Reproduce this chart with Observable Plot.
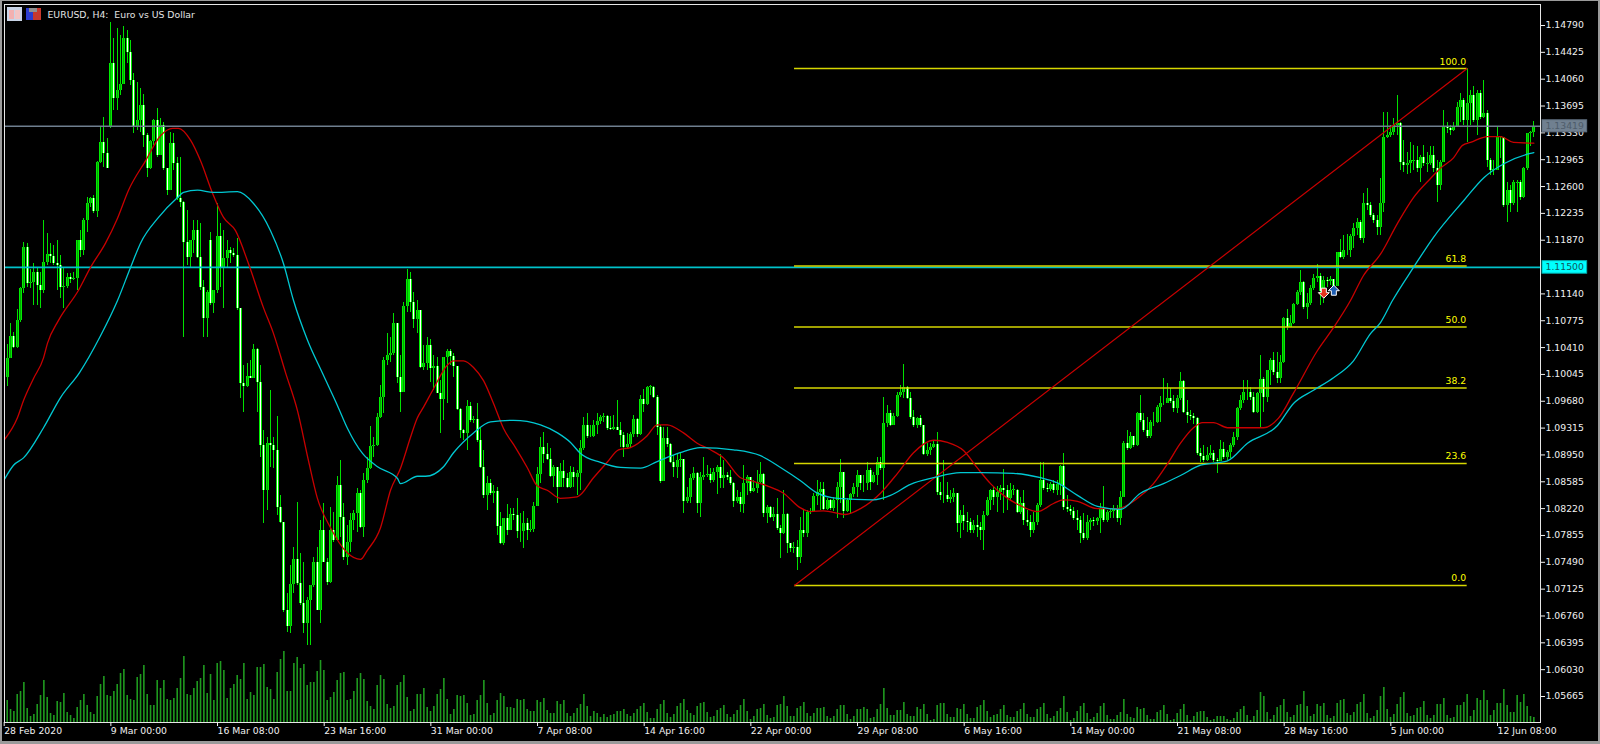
<!DOCTYPE html>
<html>
<head>
<meta charset="utf-8">
<script src="https://cdn.jsdelivr.net/npm/d3@7"></script>
<script src="https://cdn.jsdelivr.net/npm/@observablehq/plot@0.6"></script>
<style>
html,body{margin:0;padding:0;background:#000;overflow:hidden}
#chart svg{display:block}
#edge{position:absolute;left:0;top:0;width:1600px;height:744px;box-sizing:border-box;pointer-events:none;border-style:solid;border-color:#9a9a9a;border-width:1px 2px 3px 2px}
</style>
</head>
<body>
<div id="chart"></div>
<div id="edge"></div>
<script>
// Prices in pips (1.1026 = 11026), one per H4 bar
const closePips=[
11026,11056,11041,11078,11121,11177,11128,11129,11143,11125,
11119,11157,11168,11165,11155,11153,11123,11124,11136,11134,
11135,11187,11173,11214,11237,11244,11226,11293,11320,11305,
11285,11427,11380,11391,11399,11461,11442,11404,11340,11350,
11370,11329,11285,11321,11350,11302,11343,11285,11255,11319,
11291,11244,11238,11184,11163,11187,11200,11163,11123,11081,
11116,11101,11119,11192,11149,11162,11173,11169,11166,11094,
10992,10988,11002,10999,11038,10993,10908,10847,10911,10908,
10901,10823,10803,10683,10662,10719,10753,10720,10693,10666,
10697,10717,10749,10683,10792,10749,10721,10792,10779,10853,
10810,10755,10776,10806,10815,10843,10796,10860,10877,10906,
10908,10946,10973,11023,11030,11033,11074,11000,10980,11097,
11134,11102,11079,11091,11014,11019,11044,11013,11015,10979,
10970,11027,11036,11029,11015,10957,10928,10924,10961,10942,
10943,10915,10878,10840,10856,10843,10845,10798,10775,10809,
10792,10814,10813,10791,10791,10802,10792,10794,10825,10868,
10905,10896,10889,10866,10878,10851,10872,10863,10851,10871,
10864,10870,10904,10935,10920,10920,10935,10940,10946,10947,
10931,10930,10932,10928,10921,10905,10909,10923,10943,10923,
10970,10964,10987,10987,10973,10932,10859,10917,10909,10885,
10878,10887,10889,10832,10837,10863,10870,10829,10864,10867,
10868,10860,10871,10878,10863,10867,10864,10856,10832,10837,
10828,10856,10864,10845,10849,10857,10868,10815,10823,10810,
10814,10795,10788,10814,10775,10768,10769,10755,
10792,10788,10817,10818,10838,10844,10848,10821,10833,10822,
10833,10851,10871,10818,10833,10841,10851,10867,10856,10856,
10874,10857,10867,10885,10877,10938,10951,10935,10947,10976,
10980,10987,10972,10946,10935,10945,10935,10896,10901,10905,
10909,10844,10840,10840,10834,10837,10843,10802,10813,10804,
10803,10792,10799,10796,10792,10813,10833,10847,10837,10844,
10849,10847,10836,10847,10847,10817,10829,10806,10803,10792,
10803,10826,10860,10849,10848,10855,10847,10855,10879,10824,
10821,10818,10809,10806,10788,10781,10803,10806,10804,10809,
10822,10806,10817,10818,10822,10809,10837,10911,10904,10920,
10908,10951,10942,10928,10920,10939,10939,10959,10965,10965,
10972,10968,10958,10972,10995,10953,10949,10947,10945,10897,
10893,10887,10894,10897,10887,10886,10902,10891,10898,10908,
10919,10958,10969,10980,10980,10973,10953,10979,10998,10973,
11010,11023,11007,10999,11021,11081,11068,11074,11100,11116,
11129,11095,11101,11121,11135,11138,11117,11132,11131,11134,
11124,11170,11163,11173,11173,11192,11203,11211,11189,11237,
11234,11221,11214,11204,11237,11327,11329,11333,11343,11346,
11293,11289,11291,11295,11295,11285,11299,11291,11291,11302,
11285,11261,11293,11340,11339,11336,11340,11367,11377,11350,
11373,11384,11350,11387,11354,11359,11295,11282,11282,11327,
11327,11234,11255,11237,11265,11265,11245,11285,11332,11333,11342];
const highPips=[
11045,11074,11061,11093,11123,11184,11183,11147,11155,11150,
11143,11214,11196,11183,11180,11187,11166,11150,11142,11142,
11143,11187,11200,11217,11245,11245,11248,11294,11340,11354,
11325,11483,11461,11475,11465,11478,11472,11459,11414,11401,
11393,11385,11332,11323,11351,11366,11353,11347,11285,11333,
11332,11299,11299,11240,11227,11187,11214,11214,11210,11132,
11119,11197,11119,11237,11210,11200,11187,11177,11176,11189,
11094,11017,11019,11023,11045,11040,11017,10928,10919,10983,
10919,10947,10840,10803,10707,10745,10769,10830,10761,10749,
10701,10717,10755,10769,10806,10829,10754,10823,10817,10866,
10887,10829,10799,10815,10819,10849,10847,10870,10891,10934,
10919,10951,10989,11027,11060,11055,11087,11074,11030,11102,
11147,11143,11116,11105,11091,11044,11055,11052,11030,11027,
10996,11027,11038,11038,11033,11015,10958,10930,10969,10966,
10947,10965,10931,10901,10866,10862,10853,10851,10817,10809,
10828,10822,10822,10836,10815,10818,10809,10806,10830,10878,
10919,10925,10911,10904,10881,10874,10883,10887,10870,10879,
10878,10874,10915,10946,10951,10935,10942,10951,10949,10951,
10949,10947,10949,10969,10939,10925,10924,10925,10949,10945,
10976,10984,10988,10989,10988,10976,10935,10932,10932,10911,
10894,10896,10897,10889,10851,10868,10878,10871,10871,10891,
10881,10877,10877,10881,10896,10887,10871,10874,10857,10847,
10844,10881,10867,10863,10860,10874,10885,10870,10826,10825,
10823,10836,10799,10847,10815,10775,10776,10779,
10810,10819,10819,10822,10843,10860,10857,10857,10836,10834,
10837,10857,10889,10871,10836,10843,10856,10874,10863,10867,
10885,10877,10871,10891,10891,10973,10962,10955,10951,10980,
10989,11018,10988,10980,10955,10946,10949,10935,10911,10911,
10915,10925,10857,10887,10857,10847,10849,10843,10819,10826,
10817,10809,10806,10813,10803,10818,10837,10848,10851,10852,
10853,10875,10853,10856,10853,10848,10837,10847,10819,10813,
10817,10829,10885,10885,10856,10857,10860,10860,10881,10897,
10840,10826,10824,10819,10811,10815,10813,10809,10810,10810,
10829,10852,10819,10822,10826,10826,10845,10913,10928,10925,
10920,10953,10976,10951,10946,10942,10953,10962,10974,10999,
10992,10985,10976,10976,11007,10996,10969,10955,10951,10946,
10904,10908,10905,10908,10901,10890,10915,10912,10901,10911,
10925,10959,10976,10996,10996,10987,10980,10980,11030,11000,
11010,11026,11034,11034,11030,11082,11093,11085,11101,11119,
11146,11131,11115,11125,11140,11154,11142,11138,11136,11138,
11132,11170,11188,11193,11195,11195,11210,11217,11214,11251,
11257,11238,11223,11221,11271,11361,11361,11343,11353,11384,
11347,11323,11306,11320,11316,11314,11302,11316,11306,11314,
11314,11295,11295,11363,11347,11343,11347,11374,11387,11380,
11421,11391,11396,11391,11391,11404,11363,11298,11295,11340,
11328,11319,11265,11261,11268,11268,11268,11286,11332,11335,11348];
const lowPips=[
10988,11034,11040,11040,11075,11115,11123,11121,11098,11098,
11094,11115,11153,11155,11153,11119,11108,11094,11121,11128,
11132,11119,11163,11166,11197,11231,11223,11218,11291,11286,
11285,11339,11363,11363,11384,11399,11427,11397,11332,11336,
11333,11313,11272,11283,11316,11299,11302,11282,11248,11255,
11282,11241,11231,11055,11153,11150,11169,11162,11119,11055,
11055,11098,11087,11115,11123,11094,11149,11155,11163,11091,
10972,10953,10987,10999,10999,10953,10891,10802,10819,10878,
10877,10813,10802,10681,10653,10652,10707,10717,10690,10652,
10636,10636,10715,10683,10666,10749,10717,10720,10776,10783,
10783,10751,10745,10762,10792,10789,10795,10783,10856,10875,
10891,10906,10945,10951,11017,11021,11030,10992,10953,10980,
11089,11089,11067,11060,11013,11010,11010,10993,10983,10979,
10924,10942,10965,11017,11000,10955,10917,10915,10901,10939,
10938,10912,10877,10836,10819,10840,10829,10785,10773,10772,
10785,10792,10806,10781,10776,10768,10779,10789,10789,10825,
10856,10883,10887,10864,10851,10829,10851,10851,10849,10849,
10851,10840,10847,10901,10917,10919,10919,10923,10936,10939,
10928,10928,10928,10928,10905,10891,10904,10904,10919,10919,
10921,10953,10962,10976,10972,10921,10856,10859,10905,10883,
10864,10863,10878,10815,10829,10829,10860,10815,10810,10860,
10864,10856,10857,10841,10849,10849,10860,10853,10823,10829,
10817,10815,10840,10843,10844,10843,10856,10810,10802,10809,
10804,10792,10754,10787,10761,10762,10761,10738,
10747,10783,10783,10814,10817,10826,10819,10819,10819,10819,
10818,10809,10829,10809,10817,10815,10837,10837,10847,10844,
10847,10847,10856,10853,10874,10833,10932,10934,10945,10946,
10973,10972,10970,10943,10932,10931,10932,10894,10893,10894,
10904,10840,10833,10829,10830,10829,10830,10789,10781,10792,
10789,10788,10788,10783,10779,10765,10811,10819,10826,10817,
10833,10815,10819,10833,10840,10815,10814,10799,10798,10783,
10788,10799,10824,10847,10844,10845,10843,10840,10840,10819,
10817,10813,10806,10792,10775,10779,10779,10792,10798,10799,
10788,10803,10803,10809,10809,10803,10799,10837,10901,10902,
10905,10906,10939,10925,10917,10917,10934,10938,10939,10962,
10969,10965,10953,10951,10969,10951,10938,10942,10936,10894,
10885,10885,10886,10890,10885,10870,10887,10889,10887,10890,
10905,10915,10955,10965,10969,10969,10951,10951,10932,10953,
10966,10989,11003,10992,10992,11019,11064,11068,11072,11098,
11112,11093,11079,11098,11119,11129,11098,11101,11123,11125,
11121,11124,11162,11161,11166,11163,11176,11193,11187,11183,
11227,11218,11210,11193,11193,11225,11325,11327,11329,11329,
11282,11279,11276,11278,11282,11279,11265,11287,11279,11289,
11279,11238,11255,11295,11332,11329,11335,11340,11347,11343,
11320,11343,11347,11329,11351,11353,11286,11275,11275,11289,
11298,11231,11211,11225,11234,11225,11241,11244,11282,11314,11327];
// Opens that do not sit on the previous close (week gaps and the first bar)
const gapOpens=[[0,11000],[31,11340],[61,11187]];
// Tick volume in hundreds of ticks
const volume=[
22,13,11,28,31,40,14,6,8,18,27,42,25,9,7,21,20,29,10,7,
4,15,22,28,17,10,8,26,38,46,27,26,31,38,49,53,27,23,22,45,
48,57,28,17,17,42,34,42,23,22,24,34,44,66,28,27,34,41,44,57,
29,48,22,59,61,52,24,34,38,47,43,59,23,30,27,55,55,58,35,33,
23,50,63,71,31,31,59,65,54,58,37,40,40,51,62,52,22,25,30,42,
49,50,22,23,31,44,49,43,21,16,13,37,47,43,18,14,16,37,40,47,
25,11,13,28,28,34,15,11,16,28,33,44,23,8,13,27,26,27,19,7,
8,22,27,42,19,7,9,22,29,26,15,15,14,23,22,23,13,11,11,22,
20,24,12,9,9,21,18,22,9,6,9,14,18,28,16,6,11,9,5,8,
5,7,8,11,11,13,8,6,9,13,16,19,10,4,4,13,18,22,9,5,
8,16,19,23,12,9,7,16,19,20,10,5,6,12,14,17,8,5,8,12,
17,23,11,3,6,13,14,18,7,4,5,17,18,26,16,6,6,14,16,20,
9,6,9,14,14,15,6,4,6,13,17,17,8,3,6,13,13,15,13,4,
5,13,18,34,14,7,7,12,12,20,8,6,6,15,13,18,8,2,3,17,
19,19,8,5,5,14,13,18,8,4,4,15,17,22,11,5,7,8,13,17,
7,5,5,11,13,19,8,5,5,13,15,19,8,4,6,11,14,26,10,2,
4,11,16,19,9,3,5,9,16,19,7,3,3,7,10,23,8,5,4,15,
13,14,7,3,3,10,12,17,8,2,3,9,13,18,7,2,6,10,11,11,
5,2,3,6,6,6,3,2,4,10,13,16,7,2,6,12,30,26,10,3,
7,15,17,23,10,5,7,17,18,31,16,6,8,18,16,19,7,4,6,19,
22,23,9,7,10,18,20,28,9,4,6,12,26,35,13,5,8,18,25,30,
9,6,7,14,15,21,7,4,7,18,18,24,7,4,5,17,17,20,28,6,
12,24,22,32,22,7,12,19,19,33,17,10,10,27,20,28,16,6,5];
// Moving averages read at points along their curves: bar number, price in pips
const redBars=[-0.8,3.1,4.9,7.9,10.9,12.1,15.4,21.4,25,29.5,33.1,36.4,41.5,46,49.6,51.4,55,58,61.6,64.9,68.5,72.4,76.9,79.9,83.5,87.1,90.4,93,97,102,106,108,112,115,118,121,123,124.9,127.9,132,133.9,136.9,139.9,142.9,145.9,148.9,152.5,156,159,162,165.9,171,175.9,180,183.4,187,192,195,198,202.9,207,211,214.9,220,223.9,228,232.9,238,241,244.9,251.5,256,262,267.1,271.9,277.9,282.1,286.9,291.1,295,298.9,304,309.1,313.9,316.9,321.1,327.1,333.1,339.1,343.9,348.1,352,355.9,358.6,361.9,366.1,372.1,376.9,381.4,385.9,393.1,397.9,403,406.9,412,417.1,421.9,427,430,433.9,436.6,439,444.1,448,451.9,458];
const redPips=[10916,10946,10969,10999,11027,11047,11078,11119,11150,11183,11217,11255,11295,11329,11339,11339,11323,11295,11251,11218,11200,11155,11095,11060,11007,10955,10887,10837,10796,10762,10753,10765,10796,10847,10877,10919,10945,10960,10985,11017,11023,11023,11014,10996,10965,10931,10905,10878,10853,10847,10836,10838,10864,10885,10902,10905,10921,10936,10936,10925,10911,10902,10891,10864,10859,10853,10843,10823,10818,10819,10814,10822,10843,10870,10898,10915,10912,10901,10877,10856,10840,10826,10818,10829,10834,10832,10822,10822,10836,10856,10883,10911,10932,10939,10939,10932,10932,10932,10945,10979,11037,11068,11105,11139,11168,11210,11245,11271,11285,11299,11316,11320,11328,11328,11320,11319];
const cyanBars=[-0.8,1.9,4.9,10.9,16,21.7,28,33.1,37,40,45.4,51.1,52.9,57.1,61.9,69.1,73.9,79,82.9,85.9,90.1,94.6,99.1,102.1,106.6,111.1,117.1,118,123.1,125.5,130.9,133.9,139.9,145,151.9,160,165.1,169,172,178,184,190,195,201.9,207.9,217.9,226,232,238,243.1,249.1,259.9,265,271,277.9,286,292,301.9,310,315.1,321.1,327.1,334,340,346.9,352,358,366.1,372.1,381.1,385.9,391.9,397.9,403.9,409,412,415.6,421.9,427.9,437,443,449,457,458];
const cyanPips=[10862,10881,10891,10932,10973,11007,11057,11105,11150,11183,11218,11245,11252,11255,11252,11253,11237,11200,11155,11105,11051,11006,10962,10931,10897,10879,10863,10856,10866,10866,10879,10898,10925,10940,10942,10936,10925,10912,10897,10885,10878,10877,10886,10898,10905,10902,10894,10878,10860,10843,10836,10834,10840,10855,10864,10871,10871,10870,10864,10857,10840,10825,10821,10843,10856,10867,10881,10887,10911,10935,10965,10983,11000,11023,11060,11075,11105,11150,11191,11241,11272,11291,11305,11306];
// Fibonacci retracement
const fibLabels=["0.0","23.6","38.2","50.0","61.8","100.0"];
const fibPrices=[1.07175,1.08834,1.09860,1.10690,1.11519,1.14205];
const fibStartBar=236.2, fibEndBar=438;
// Horizontal price lines
const greyLevel=1.13419, cyanLevel=1.11500;
// Trade arrows
const arrowBars=[395,398], arrowPrices=[1.1115,1.1119];
// Axes
const yTicks=[1.14790,1.14425,1.14060,1.13695,1.13330,1.12965,1.12600,1.12235,1.11870,1.11140,1.10775,1.10410,1.10045,1.09680,1.09315,1.08950,1.08585,1.08220,1.07855,1.07490,1.07125,1.06760,1.06395,1.06030,1.05665];
const xTickBars=[-0.9,31.1,63.1,95.1,127.1,159.1,191.1,223.1,255.1,287.1,319.1,351.1,383.1,415.1,447.1];
const xLabels=["28 Feb 2020","9 Mar 00:00","16 Mar 08:00","23 Mar 16:00","31 Mar 00:00","7 Apr 08:00","14 Apr 16:00","22 Apr 00:00","29 Apr 08:00","6 May 16:00","14 May 00:00","21 May 08:00","28 May 16:00","5 Jun 00:00","12 Jun 08:00"];
const titleText="EURUSD, H4:\u00a0 Euro vs US Dollar";

const gapMap=new Map(gapOpens);
const bars=closePips.map((c,i)=>{
  const o=gapMap.has(i)?gapMap.get(i):closePips[i-1];
  const up=c>=o;
  const top=Math.max(o,c), bot=Math.min(o,c);
  return {i,up,o:o/1e4,c:c/1e4,h:highPips[i]/1e4,l:lowPips[i]/1e4,
    top:(top===bot?top+0.5:top)/1e4,bot:(top===bot?bot-0.5:bot)/1e4};
});
const volBase=1.053115, volUnit=0.000136;
const vols=volume.map((v,i)=>({i,v}));
const red=redBars.map((b,j)=>({b,p:redPips[j]/1e4}));
const cyan=cyanBars.map((b,j)=>({b,p:cyanPips[j]/1e4}));
const fibs=fibPrices.map((p,j)=>({p,label:fibLabels[j]}));
const downArrow={draw(c){c.moveTo(-2.5,-5);c.lineTo(2.5,-5);c.lineTo(2.5,-0.5);c.lineTo(5.5,-0.5);c.lineTo(0,5);c.lineTo(-5.5,-0.5);c.lineTo(-2.5,-0.5);c.closePath();}};
const upArrow={draw(c){c.moveTo(-2.5,5);c.lineTo(2.5,5);c.lineTo(2.5,0.5);c.lineTo(5.5,0.5);c.lineTo(0,-5);c.lineTo(-5.5,0.5);c.lineTo(-2.5,0.5);c.closePath();}};
const font="DejaVu Sans", fs=9.3;

const chart=Plot.plot({
  width:1600,height:744,marginTop:4,marginLeft:4,marginRight:60,marginBottom:22,
  style:{background:"#000",color:"#fff",fontFamily:font,fontSize:fs+"px"},
  x:{domain:[-0.81,460],axis:null},
  y:{domain:[1.053115,1.150756],axis:null},
  marks:[
    Plot.ruleX(vols,{x:"i",y1:volBase,y2:d=>volBase+d.v*volUnit,stroke:"#1f9a1f",strokeWidth:1.6}),
    Plot.ruleX(bars,{x:"i",y1:"l",y2:"h",stroke:"#00e000",strokeWidth:1,shapeRendering:"crispEdges"}),
    Plot.ruleX(bars,{x:"i",y1:"bot",y2:"top",stroke:"#00ee00",strokeWidth:3,shapeRendering:"crispEdges"}),
    Plot.ruleX(bars,{x:"i",y1:"bot",y2:"top",stroke:d=>d.up?"#00a800":"#ffffff",strokeWidth:1,shapeRendering:"crispEdges"}),
    Plot.ruleY([greyLevel],{stroke:"#6f7f8f",strokeWidth:1.4}),
    Plot.ruleY([cyanLevel],{stroke:"#00c2ca",strokeWidth:1.7}),
    Plot.ruleY(fibs,{y:"p",x1:fibStartBar,x2:fibEndBar,stroke:"#d6d600",strokeWidth:1.5}),
    Plot.line([{b:fibStartBar,p:fibPrices[0]},{b:fibEndBar,p:fibPrices[5]}],{x:"b",y:"p",stroke:"#c80000",strokeWidth:1.2}),
    Plot.text(fibs,{x:fibEndBar,y:"p",text:"label",fill:"#ffff00",textAnchor:"end",dx:-1,dy:-7,fontSize:fs,fontFamily:font}),
    Plot.line(red,{x:"b",y:"p",stroke:"#c80000",strokeWidth:1.3,curve:"monotone-x"}),
    Plot.line(cyan,{x:"b",y:"p",stroke:"#00c8d2",strokeWidth:1.3,curve:"monotone-x"}),
    Plot.dot([{b:arrowBars[0],p:arrowPrices[0]}],{x:"b",y:"p",symbol:downArrow,fill:"#e8351e",stroke:"#fff",strokeWidth:1}),
    Plot.dot([{b:arrowBars[1],p:arrowPrices[1]}],{x:"b",y:"p",symbol:upArrow,fill:"#1f5fb4",stroke:"#fff",strokeWidth:1}),
    Plot.frame({stroke:"#e6e6e6"}),
    Plot.axisY({anchor:"right",ticks:yTicks,tickFormat:d3.format(".5f"),tickSize:4,tickPadding:1,label:null,fontSize:fs,fontFamily:font,color:"#f0f0f0"}),
    Plot.ruleX(xTickBars,{x:d=>d,y1:volBase,y2:volBase-4*volUnit,stroke:"#f0f0f0"}),
    Plot.text(xTickBars,{x:d=>d,text:(d,j)=>xLabels[j],frameAnchor:"bottom",textAnchor:"start",dy:11,fill:"#f0f0f0",fontSize:fs,fontFamily:font}),
    Plot.rect([greyLevel],{x1:460.6,x2:474,y1:d=>d-0.00082,y2:d=>d+0.00082,fill:"#708090",stroke:"#5f6f7f"}),
    Plot.text([greyLevel],{x:461.5,y:d=>d,text:d=>d3.format(".5f")(d),textAnchor:"start",fill:"#4e5c6a",fontSize:fs,fontFamily:font}),
    Plot.rect([cyanLevel],{x1:460.6,x2:474,y1:d=>d-0.00085,y2:d=>d+0.00085,fill:"#00ffff",stroke:"#00b4b4"}),
    Plot.text([cyanLevel],{x:461.5,y:d=>d,text:d=>d3.format(".5f")(d),textAnchor:"start",fill:"#10585c",fontSize:fs,fontFamily:font}),
    Plot.text([titleText],{frameAnchor:"top-left",dx:43,dy:7,fill:"#e4e4e4",textAnchor:"start",fontSize:fs,fontFamily:font})
  ]
});
// Title bar icons
const svg=d3.select(chart);
const icons=svg.append("g").attr("shape-rendering","crispEdges");
[[7,7,15,14,"#c9d4e6"],[9,10,5,9,"#f3b0b0"],[15,10,5,9,"#f3c4c4"],
 [26,8,7,12,"#2a3cd0"],[33,8,8,12,"#c8382e"],[29,8,8,4,"#909090"]].forEach(r=>{
  icons.append("rect").attr("x",r[0]).attr("y",r[1]).attr("width",r[2]).attr("height",r[3]).attr("fill",r[4]);
});
document.getElementById("chart").appendChild(chart);
</script>
</body>
</html>
